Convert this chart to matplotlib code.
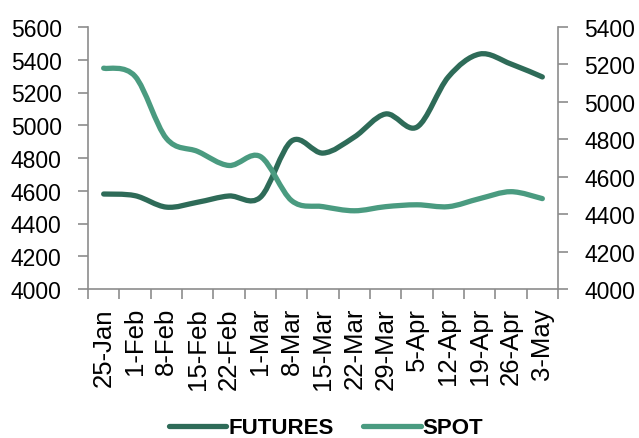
import matplotlib

matplotlib.use("Agg")
import matplotlib.pyplot as plt
from matplotlib.lines import Line2D
from matplotlib.patches import PathPatch
from matplotlib.path import Path

dates = ["25-Jan", "1-Feb", "8-Feb", "15-Feb", "22-Feb", "1-Mar", "8-Mar",
         "15-Mar", "22-Mar", "29-Mar", "5-Apr", "12-Apr", "19-Apr", "26-Apr",
         "3-May"]
# futures read against the left axis, spot against the right axis
futures = [4580, 4570, 4500, 4530, 4568, 4560, 4904, 4830, 4928, 5069,
           4989, 5295, 5435, 5374, 5295]
spot = [5180, 5137, 4805, 4735, 4660, 4708, 4472, 4440, 4418, 4440,
        4450, 4440, 4483, 4520, 4483]

_FUT_COLOR = "#2e6b58"
_SPOT_COLOR = "#4a9b80"
_AXIS_GREY = "#8c8c8c"

plt.rcParams["font.family"] = ["Liberation Sans", "DejaVu Sans"]


def smooth_path(ys):
    # Excel-style smoothed line: cubic Bezier through each point
    xs = list(range(len(ys)))
    pts = list(zip(xs, ys))
    verts = [pts[0]]
    codes = [Path.MOVETO]
    n = len(pts)
    for i in range(n - 1):
        p0 = pts[max(i - 1, 0)]
        p1 = pts[i]
        p2 = pts[i + 1]
        p3 = pts[min(i + 2, n - 1)]
        c1 = (p1[0] + (p2[0] - p0[0]) / 6, p1[1] + (p2[1] - p0[1]) / 6)
        c2 = (p2[0] - (p3[0] - p1[0]) / 6, p2[1] - (p3[1] - p1[1]) / 6)
        verts += [c1, c2, p2]
        codes += [Path.CURVE4] * 3
    return Path(verts, codes)


fig = plt.figure(figsize=(6.39, 4.39), dpi=100)
ax = fig.add_axes([88 / 639, 1 - 290 / 439, 470 / 639, 262 / 439])
ax2 = ax.twinx()

ax.add_patch(PathPatch(smooth_path(futures), fill=False, edgecolor=_FUT_COLOR,
                       lw=3.8, capstyle="round", joinstyle="round"))
ax2.add_patch(PathPatch(smooth_path(spot), fill=False, edgecolor=_SPOT_COLOR,
                        lw=3.8, capstyle="round", joinstyle="round"))

ax.set_xlim(-0.5, len(dates) - 0.5)
ax.set_ylim(4000, 5600)
ax2.set_ylim(4000, 5400)
ax.set_yticks(range(4000, 5601, 200))
ax2.set_yticks(range(4000, 5401, 200))

ax.set_xticks(range(len(dates)))
ax.set_xticklabels(dates, rotation=90, fontsize=18.5)
ax.set_xticks([i - 0.5 for i in range(len(dates) + 1)], minor=True)
ax.tick_params(axis="x", which="major", length=0, pad=13)
ax.tick_params(axis="x", which="minor", length=7, width=1.2, color=_AXIS_GREY)

for a, side in ((ax, "left"), (ax2, "right")):
    a.tick_params(axis="y", length=7, width=1.2, color=_AXIS_GREY,
                  labelsize=16.5, pad=12)
    for s in a.spines.values():
        s.set_visible(False)
    a.spines[side].set_visible(True)
    a.spines[side].set_color(_AXIS_GREY)
    a.spines[side].set_linewidth(1.2)
ax.spines["bottom"].set_visible(True)
ax.spines["bottom"].set_color(_AXIS_GREY)
ax.spines["bottom"].set_linewidth(1.2)

handles = [Line2D([], [], color=_FUT_COLOR, lw=3.8, solid_capstyle="round"),
           Line2D([], [], color=_SPOT_COLOR, lw=3.8, solid_capstyle="round")]
fig.legend(handles, ["FUTURES", "SPOT"], loc="center", ncol=2,
           bbox_to_anchor=(326 / 639, 1 - 429 / 439), frameon=False,
           prop={"weight": "bold", "size": 16}, handlelength=2.6,
           handletextpad=0.1, columnspacing=1.3)

fig.savefig("out.png", dpi=100)
